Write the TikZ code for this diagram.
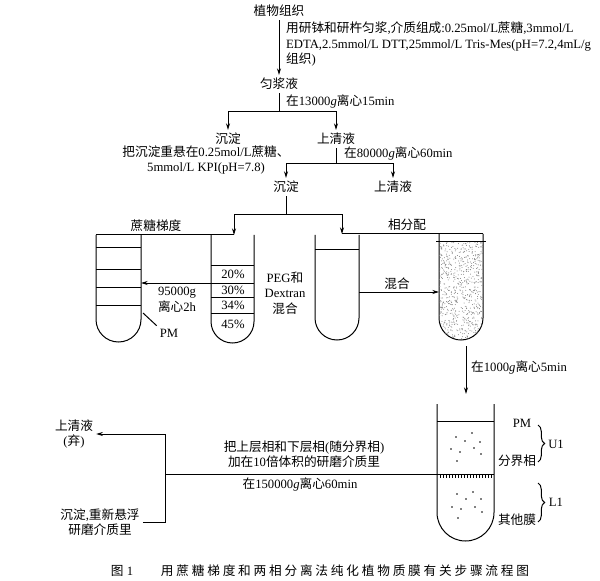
\documentclass[tikz,border=0pt]{standalone}
\usepackage{fontspec}
\setmainfont{Liberation Serif}
\newfontfamily\cjk{Noto Sans CJK SC}
\newfontfamily\cjkcap[LetterSpace=22]{Noto Sans CJK SC}
\newcommand{\zh}[1]{{\cjk #1}}
\usetikzlibrary{arrows.meta,decorations.pathreplacing}

\tikzset{every picture/.style={line width=0.75pt}}
\tikzset{
txt/.style={inner sep=2pt,font=\fontsize{9.5}{11.6}\selectfont},
arr/.style={-{Stealth[length=5pt,width=3pt]}}}

\begin{document}
\begin{tikzpicture}[x=0.75pt,y=0.75pt,yscale=-1,xscale=1]
\useasboundingbox (0,0) rectangle (600,581);

% Text Node
\draw (279,11) node [txt] (plant) {\zh{植物组织}};
% Text Node
\draw (283,44) node [txt,anchor=west,align=left] (medium) {\zh{用研钵和研杵匀浆},\zh{介质组成}:0.25mol/L\zh{蔗糖},3mmol/L\\EDTA,2.5mmol/L DTT,25mmol/L Tris-Mes(pH=7.2,4mL/g\\\zh{组织})};
% Text Node
\draw (279,84) node [txt] (homog) {\zh{匀浆液}};
% Text Node
\draw (283,101) node [txt,anchor=west] (spinA) {\zh{在}13000\textit{g}\zh{离心}15min};
% Text Node
\draw (228,139) node [txt] (pelletA) {\zh{沉淀}};
% Text Node
\draw (336,139) node [txt] (superA) {\zh{上清液}};
% Text Node
\draw (206,160) node [txt,align=center] (resusp) {\zh{把沉淀重悬在}0.25mol/L\zh{蔗糖、}\\5mmol/L KPI(pH=7.8)};
% Text Node
\draw (341,153) node [txt,anchor=west] (spinB) {\zh{在}80000\textit{g}\zh{离心}60min};
% Text Node
\draw (286,187) node [txt] (pelletB) {\zh{沉淀}};
% Text Node
\draw (393,187) node [txt] (superB) {\zh{上清液}};
% Text Node
\draw (156,226) node [txt] (sucrose) {\zh{蔗糖梯度}};
% Text Node
\draw (407,225) node [txt] (partition) {\zh{相分配}};
% Text Node
\draw (233,274) node [txt] (pc20) {20\%};
% Text Node
\draw (233,290) node [txt] (pc30) {30\%};
% Text Node
\draw (233,305) node [txt] (pc34) {34\%};
% Text Node
\draw (233,324) node [txt] (pc45) {45\%};
% Text Node
\draw (177,300) node [txt,align=center] (spinC) {95000g\\\zh{离心}2h};
% Text Node
\draw (169,333) node [txt] (pmA) {PM};
% Text Node
\draw (285,293) node [txt,align=center] (peg) {PEG\zh{和}\\Dextran\\\zh{混合}};
% Text Node
\draw (397,284) node [txt] (mix) {\zh{混合}};
% Text Node
\draw (468,367) node [txt,anchor=west] (spinD) {\zh{在}1000\textit{g}\zh{离心}5min};
% Text Node
\draw (522,423) node [txt] (pmB) {PM};
% Text Node
\draw (517,461) node [txt] (interph) {\zh{分界相}};
% Text Node
\draw (517,520) node [txt] (other) {\zh{其他膜}};
% Text Node
\draw (556,444) node [txt] (uone) {U1};
% Text Node
\draw (556,502) node [txt] (lone) {L1};
% Text Node
\draw (304,454) node [txt,align=center] (combine) {\zh{把上层相和下层相}(\zh{随分界相})\\\zh{加在}10\zh{倍体积的研磨介质里}};
% Text Node
\draw (300,484) node [txt] (spinE) {\zh{在}150000\textit{g}\zh{离心}60min};
% Text Node
\draw (74,434) node [txt,align=center] (discard) {\zh{上清液}\\(\zh{弃})};
% Text Node
\draw (100,522) node [txt,align=center] (resuspB) {\zh{沉淀},\zh{重新悬浮}\\\zh{研磨介质里}};
% Text Node
\draw (122,571) node [txt] (fig) {\zh{图} 1};
% Text Node
\draw (345,571) node [txt] (caption) {\cjkcap 用蔗糖梯度和两相分离法纯化植物质膜有关步骤流程图};

%Straight Lines
\draw [arr] (plant) -- (homog);
\draw (homog) -- (279,112) coordinate (forkA);
\draw [arr] (forkA) -| (pelletA);
\draw [arr] (forkA) -| (superA);
%Straight Lines
\draw (superA) -- (336,164) coordinate (forkB);
\draw [arr] (forkB) -| (pelletB);
\draw [arr] (forkB) -| (superB);
%Straight Lines
\coordinate (mouthL) at (234,235);
\coordinate (mouthR) at (342,234);
\draw (pelletB) -- (286,215) coordinate (forkC);
\draw [arr] (forkC) -| (mouthL);
\draw [arr] (forkC) -| (mouthR);
\draw (96,235) -- (mouthL);
\draw (mouthR) -- (483,234);

%Shape: Tube gradient
\draw (96,235) -- (96,319.5) arc[start angle=180,end angle=0,radius=22.5] -- (141,235);
\foreach \y in {248,269,287,305} \draw (96,\y) -- (141,\y);
%Shape: Tube layers
\draw (211,235) -- (211,321.5) arc[start angle=180,end angle=0,radius=21.5] -- (254,235);
\foreach \y in {265,283,297,313} \draw (211,\y) -- (254,\y);
%Shape: Tube mix
\draw (315,235) -- (315,318) arc[start angle=180,end angle=0,radius=22] -- (359,235);
\draw (315,250) -- (359,250);
%Shape: Tube stipple
\draw (439,234) -- (439,318) arc[start angle=180,end angle=0,radius=22] -- (483,234);
\draw (436,242) -- (486,242);
\begin{scope}
\clip (439,242) -- (439,318) arc[start angle=180,end angle=0,radius=22] -- (483,242) -- cycle;
\pgfmathsetseed{12}
\foreach \i in {1,...,700} \fill [black!50] ({439+44*rnd},{242+98*rnd}) circle (0.5);
\end{scope}

%Straight Lines
\draw [arr] (211,283) -- (141,283);
\draw (pmA.north west) -- (143,313);
\draw [arr] (359,292) -- (439,292);
\draw [arr] (466,346) -- (466,394);

%Shape: Tube two phase
\draw (437,404) -- (437,512.5) arc[start angle=180,end angle=0,radius=28.5] -- (494,404);
\draw (437,421) -- (494,421);
\draw (437,474) -- (494,474);
\foreach \x in {440,443,...,491} \draw [line width=0.6pt] (\x,474) -- (\x,477.5);
\foreach \x/\y in {456/437,472/433,465/441,480/442,451/449,460/452,474/448,481/454,457/461,
457/494,473/492,466/499,481/499,452/507,461/509,475/507,482/512,458/518} \fill (\x,\y) circle (0.9);
%Braces
\draw [decorate,decoration={brace,amplitude=5pt}] (538,425) -- (538,462);
\draw [decorate,decoration={brace,amplitude=5pt}] (538,483) -- (538,522);

%Straight Lines
\coordinate (tubeside) at (437,474);
\draw (tubeside) -- (165,474);
\draw [arr] (resuspB) -- (165,522) -- (165,434) -- (discard);

\end{tikzpicture}
\end{document}
